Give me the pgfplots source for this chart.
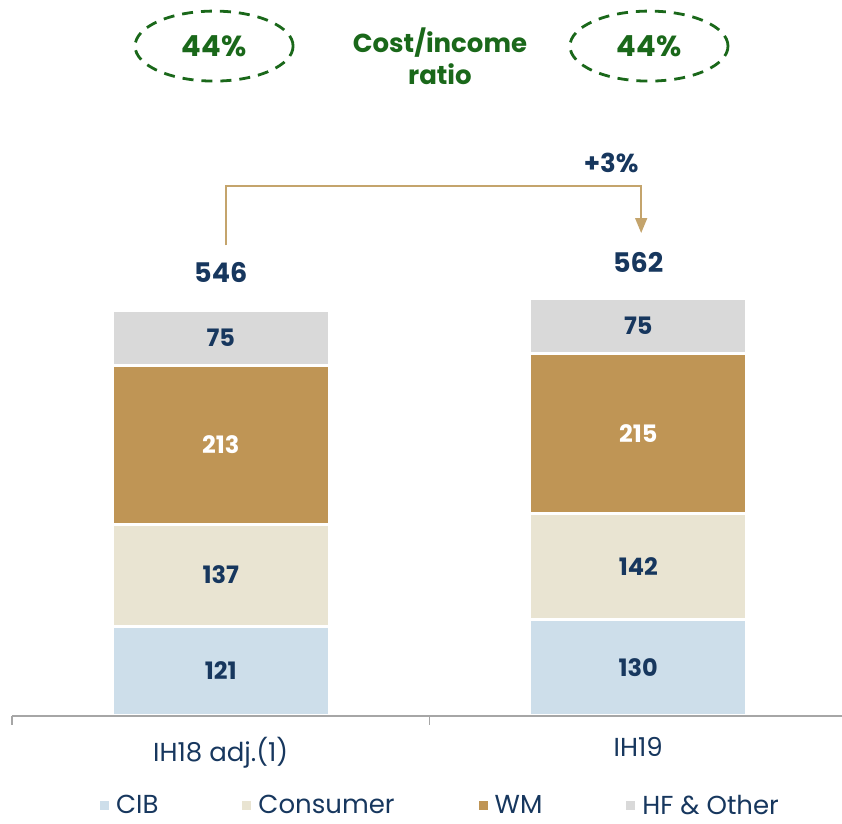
\documentclass[border=0pt]{standalone}
\usepackage{fontspec}
\setmainfont{Poppins}
\usepackage{pgfplots}
\pgfplotsset{compat=1.18}
\usetikzlibrary{arrows.meta}

\definecolor{cib}{RGB}{205,222,234}
\definecolor{consumer}{RGB}{233,228,210}
\definecolor{wm}{RGB}{191,149,85}
\definecolor{hf}{RGB}{217,217,217}
\definecolor{navy}{RGB}{23,55,94}
\definecolor{dkgreen}{RGB}{26,104,26}
\definecolor{tan}{RGB}{196,164,108}

\pgfplotsset{
  frame/.style={scale only axis, width=415pt, height=358pt,
    xmin=-0.5, xmax=1.488, ymin=0, ymax=963, clip=false},
  lbl/.style={only marks, mark=none, nodes near coords,
    point meta=explicit symbolic,
    every node near coord/.append style={anchor=center, inner sep=0pt}},
}

\begin{document}
\begin{tikzpicture}
\begin{axis}[
  frame,
  ybar stacked,
  bar width=108.5pt,
  axis x line*=bottom,
  axis y line=none,
  axis on top,
  x axis line style={draw=gray!70, line width=0.8pt, -},
  xtick={0,1},
  xticklabels={IH18 adj.(1), IH19},
  major tick length=0pt,
  extra x ticks={-0.5,0.5},
  extra x tick labels={},
  extra x tick style={major tick length=4.5pt, tick align=outside,
    tick style={draw=gray!70, line width=0.8pt}},
  xticklabel style={text=navy, font=\fontsize{13}{15}\selectfont, yshift=-7pt},
  legend style={at={(0.5157,0)}, anchor=center, yshift=-45pt, draw=none,
    fill=none, font=\fontsize{13}{15}\selectfont, text=navy,
    legend columns=4, /tikz/every even column/.append style={column sep=38.5pt}},
  legend image code/.code={\fill[#1] (0pt,-3pt) rectangle (6pt,3pt);},
]
\addplot[fill=cib, draw=white, line width=1.5pt] coordinates {(0,121) (1,130)};
\addplot[fill=consumer, draw=white, line width=1.5pt] coordinates {(0,137) (1,142)};
\addplot[fill=wm, draw=white, line width=1.5pt] coordinates {(0,213) (1,215)};
\addplot[fill=hf, draw=white, line width=1.5pt] coordinates {(0,75) (1,75)};
\legend{CIB, Consumer, WM, HF \& Other}
\coordinate (ll) at (rel axis cs:0,0);
\coordinate (ur) at (rel axis cs:1,1);
\end{axis}

\begin{axis}[frame, hide axis]
% segment labels
\addplot[lbl, every node near coord/.append style={text=navy,
  font=\bfseries\fontsize{12}{14}\selectfont}]
  coordinates {(0,60.5)[121] (0,189.5)[137] (0,508.5)[75]
               (1,65)[130] (1,201)[142] (1,524.5)[75]};
\addplot[lbl, every node near coord/.append style={text=white,
  font=\bfseries\fontsize{12}{14}\selectfont}]
  coordinates {(0,364.5)[213] (1,379.5)[215]};
% totals
\addplot[lbl, every node near coord/.append style={text=navy,
  font=\bfseries\fontsize{13.5}{15}\selectfont}]
  coordinates {(0,597)[546] (1,610.5)[562]};

% growth arrow
\draw[tan, line width=0.8pt, -{Triangle[width=6pt,length=7.5pt]}]
  (axis cs:0.013,633) |- (axis cs:1.007,713) -- (axis cs:1.007,649.6);
\node[text=navy, font=\bfseries\fontsize{13}{15}\selectfont]
  at (axis cs:0.935,743.7) {+3\%};

% cost/income ratio
\draw[dkgreen, line width=1.4pt, dash pattern=on 5.5pt off 4pt]
  (axis cs:-0.016,901) ellipse [x radius=39.5pt, y radius=17.5pt];
\draw[dkgreen, line width=1.4pt, dash pattern=on 5.5pt off 4pt]
  (axis cs:1.0257,901) ellipse [x radius=39.5pt, y radius=17.5pt];
\node[text=dkgreen, font=\bfseries\fontsize{14.5}{16}\selectfont]
  at (axis cs:-0.016,901) {44\%};
\node[text=dkgreen, font=\bfseries\fontsize{14.5}{16}\selectfont]
  at (axis cs:1.0257,901) {44\%};
\node[text=dkgreen, align=center, font=\bfseries\fontsize{13}{16}\selectfont]
  at (axis cs:0.525,887.6) {Cost/income\\ratio};
\end{axis}

\pgfresetboundingbox
\path[use as bounding box] ([xshift=-6pt,yshift=-54pt]ll) rectangle (ur);
\end{tikzpicture}
\end{document}
